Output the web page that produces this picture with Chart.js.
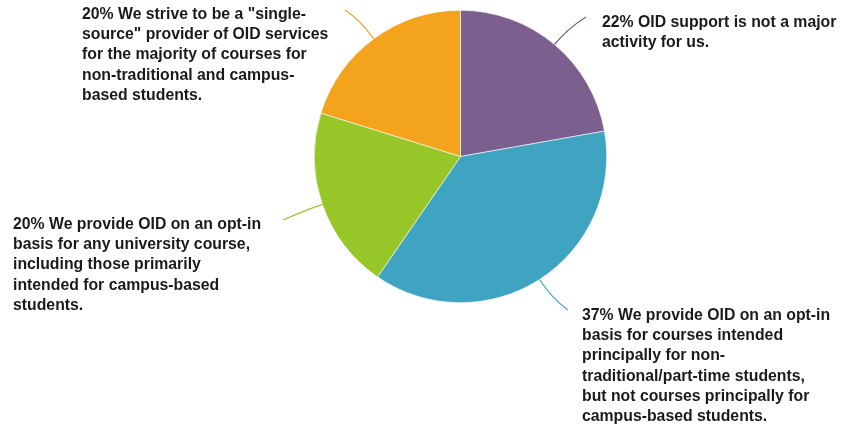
<!DOCTYPE html>
<html>
<head>
<meta charset="utf-8">
<script src="https://cdn.jsdelivr.net/npm/chart.js@4.4.1/dist/chart.umd.min.js"></script>
<style>
  html, body { margin: 0; padding: 0; background: #fff; }
  #wrap { width: 844px; height: 426px; position: relative; }
</style>
</head>
<body>
<div id="wrap"><canvas id="pie"></canvas></div>
<script>
// slices, clockwise from 12 o'clock
const categories = [
    'OID support is not a major activity for us.',
    'We provide OID on an opt-in basis for courses intended principally for non-traditional/part-time students, but not courses principally for campus-based students.',
    'We provide OID on an opt-in basis for any university course, including those primarily intended for campus-based students.',
    'We strive to be a "single-source" provider of OID services for the majority of courses for non-traditional and campus-based students.'
];
const percents = [22, 37, 20, 20];
const colours = ['#7b5f8e', '#3fa3c2', '#97c628', '#f4a41c'];

// label text as wrapped in the picture
const labelLines = [
    ['22% OID support is not a major', 'activity for us.'],
    ['37% We provide OID on an opt-in', 'basis for courses intended', 'principally for non-', 'traditional/part-time students,', 'but not courses principally for', 'campus-based students.'],
    ['20% We provide OID on an opt-in', 'basis for any university course,', 'including those primarily', 'intended for campus-based', 'students.'],
    ['20% We strive to be a "single-', 'source" provider of OID services', 'for the majority of courses for', 'non-traditional and campus-', 'based students.']
];

// where each callout goes (text first baseline + leader end)
const callouts = [
    { tx: 602, ty: 27, ex: 586, ey: 17, bend: 22 },
    { tx: 582, ty: 320, ex: 568, ey: 310, bend: 22 },
    { tx: 13, ty: 229, ex: 283, ey: 220, bend: 18 },
    { tx: 82, ty: 19, ex: 345, ey: 10, bend: 24 }
];

const calloutPlugin = {
    id: 'callouts',
    afterDatasetsDraw(chart) {
        const ctx = chart.ctx;
        const meta = chart.getDatasetMeta(0);
        meta.data.forEach((arc, i) => {
            const p = arc.getProps(['x', 'y', 'startAngle', 'endAngle', 'outerRadius'], true);
            const mid = (p.startAngle + p.endAngle) / 2;
            const c = callouts[i];
            const sx = p.x + Math.cos(mid) * p.outerRadius;
            const sy = p.y + Math.sin(mid) * p.outerRadius;
            const cx = p.x + Math.cos(mid) * (p.outerRadius + c.bend);
            const cy = p.y + Math.sin(mid) * (p.outerRadius + c.bend);
            ctx.save();
            ctx.strokeStyle = colours[i];
            ctx.lineWidth = 1.2;
            ctx.beginPath();
            ctx.moveTo(sx, sy);
            ctx.quadraticCurveTo(cx, cy, c.ex, c.ey);
            ctx.stroke();
            ctx.fillStyle = '#1a1a1a';
            ctx.font = 'bold 15.8px "Liberation Sans", Arial, sans-serif';
            ctx.textBaseline = 'alphabetic';
            labelLines[i].forEach((line, j) => {
                ctx.fillText(line, c.tx, c.ty + j * 20.2);
            });
            ctx.restore();
        });
    }
};

new Chart(document.getElementById('pie'), {
    type: 'pie',
    data: {
        labels: categories,
        datasets: [{
            data: percents,
            backgroundColor: colours,
            borderColor: '#ffffff',
            borderWidth: 0.6
        }]
    },
    options: {
        responsive: true,
        maintainAspectRatio: false,
        animation: false,
        layout: { padding: { top: 10, bottom: 123, left: 314, right: 237 } },
        plugins: {
            legend: { display: false },
            tooltip: { enabled: false }
        }
    },
    plugins: [calloutPlugin]
});
</script>
</body>
</html>
